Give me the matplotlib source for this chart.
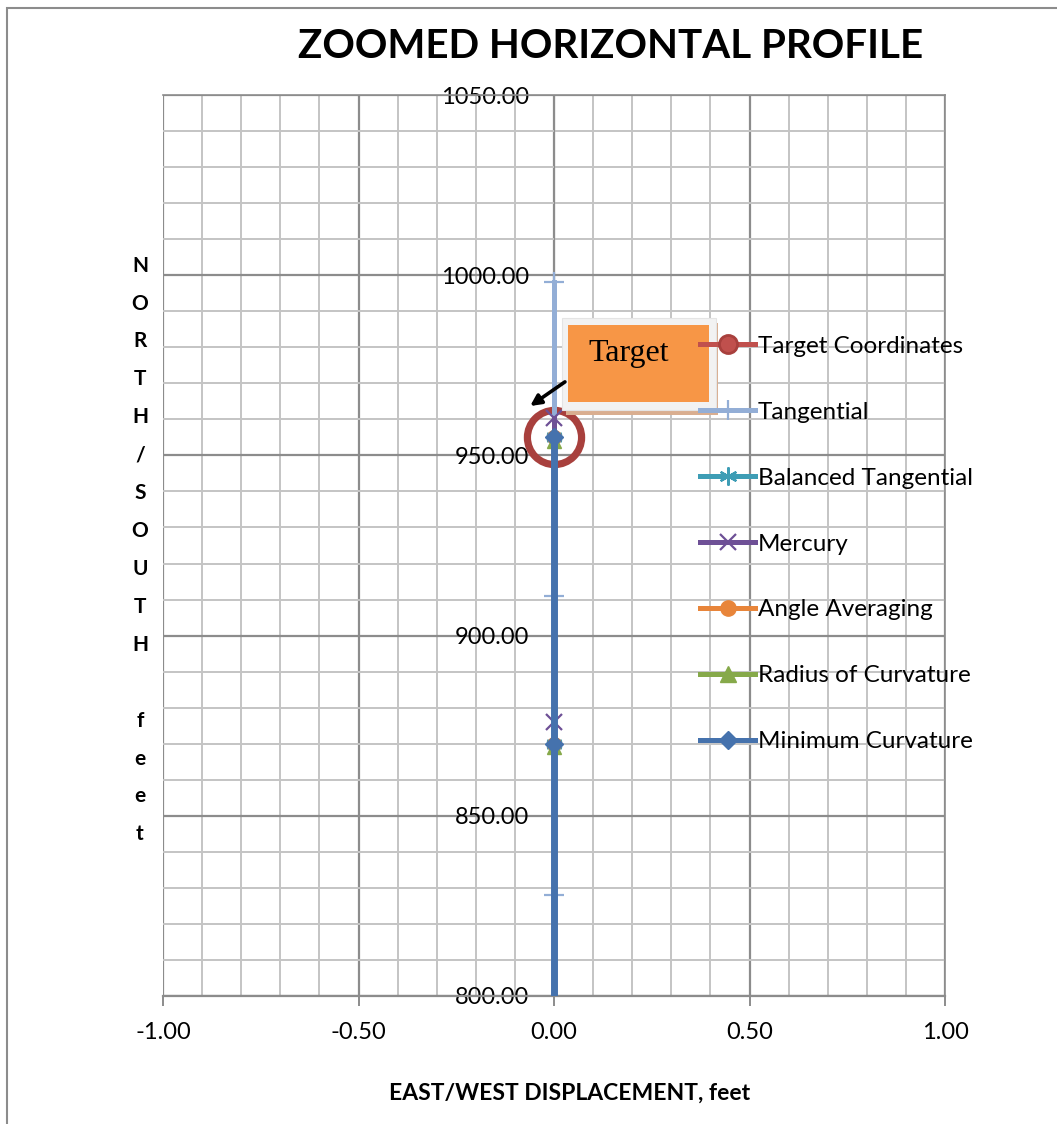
import matplotlib
matplotlib.use("Agg")
import matplotlib.pyplot as plt
from matplotlib.lines import Line2D
from matplotlib.patches import Rectangle
import numpy as np

plt.rcParams['font.family'] = ['Lato', 'DejaVu Sans']

# data (all stations sit on the 0.00 east/west line)
target_x = [0.0]
target_y = [955.0]
tang_x = [0.0, 0.0, 0.0, 0.0]
tang_y = [744.0, 828.0, 911.0, 998.0]
bal_x = [0.0, 0.0, 0.0]
bal_y = [785.0, 870.0, 955.0]
merc_x = [0.0, 0.0, 0.0]
merc_y = [791.0, 876.0, 960.5]
angle_x = [0.0, 0.0, 0.0]
angle_y = [785.0, 870.0, 955.0]
radius_x = [0.0, 0.0, 0.0]
radius_y = [784.0, 869.0, 954.0]
minc_x = [0.0, 0.0, 0.0]
minc_y = [785.0, 870.0, 955.0]

xticks = [-1.0, -0.5, 0.0, 0.5, 1.0]
yticks = [800, 850, 900, 950, 1000, 1050]

c_target = '#A8403D'
c_tang = '#93AED6'
c_bal = '#3E9DB5'
c_merc = '#6E5096'
c_angle = '#E8853A'
c_radius = '#86A94A'
c_minc = '#4572AD'

fig = plt.figure(figsize=(10.57, 11.24), dpi=100)
ax = fig.add_axes([163/1057, 1 - 996/1124, 782/1057, 901/1124])
ax.set_xlim(-1, 1)
ax.set_ylim(800, 1050)

# grid
ax.set_xticks(xticks)
ax.set_xticks(np.arange(-1, 1.001, 0.1), minor=True)
ax.set_yticks(yticks)
ax.set_yticks(np.arange(800, 1050.1, 10), minor=True)
ax.grid(which='minor', color='#C4C4C4', lw=1.4, zorder=0)
ax.grid(which='major', color='#8C8C8C', lw=1.6, zorder=0)
ax.set_axisbelow(True)

for s in ['top', 'right']:
    ax.spines[s].set_color('#8C8C8C')
    ax.spines[s].set_linewidth(1.2)
ax.spines['bottom'].set_color('#8C8C8C')
ax.spines['bottom'].set_linewidth(1.6)
ax.spines['left'].set_position(('data', 0))
ax.spines['left'].set_color('#8C8C8C')

ax.set_xticklabels(['%.2f' % v for v in xticks], fontsize=17)
ax.set_yticklabels(['%.2f' % v for v in yticks], fontsize=17)
ax.tick_params(axis='x', which='major', length=7, width=1.4, color='#8C8C8C', pad=12)
ax.tick_params(axis='y', which='major', length=0, pad=18)
ax.tick_params(which='minor', length=0)

# series
ax.plot(target_x, target_y, color=c_target, marker='o', ms=39, mfc='none',
        mec=c_target, mew=5.2, lw=3, zorder=3)
ax.plot(tang_x, tang_y, color=c_tang, marker='+', ms=14, mew=1.6, lw=3.6, zorder=4)
ax.plot(bal_x, bal_y, color=c_bal, marker=(6, 2, 0), ms=12, mew=1.6, lw=3.6, zorder=5)
ax.plot(merc_x, merc_y, color=c_merc, marker='x', ms=11, mew=1.6, lw=3.6, zorder=6)
ax.plot(angle_x, angle_y, color=c_angle, marker='o', ms=10, lw=3.6, zorder=7)
ax.plot(radius_x, radius_y, color=c_radius, marker='^', ms=10, lw=3.6, zorder=8)
ax.plot(minc_x, minc_y, color=c_minc, marker='D', ms=9, lw=5, zorder=9)

# target callout
ax.add_patch(Rectangle((0.030, 961.3), 0.390, 25.5, facecolor='#D9AE90',
                       edgecolor='none', zorder=10))
ax.add_patch(Rectangle((0.0205, 962.6), 0.3935, 25.5, facecolor='#F2F2F2',
                       edgecolor='#E4E4E4', lw=0.8, zorder=11))
ax.add_patch(Rectangle((0.036, 964.8), 0.360, 21.4, facecolor='#F79646',
                       edgecolor='none', zorder=12))
ax.text(0.087, 978.4, 'Target', family=['Liberation Serif', 'DejaVu Serif'],
        fontsize=23, va='center', ha='left', zorder=13)
ax.annotate('', xy=(-0.061, 963.7), xytext=(0.028, 970.4),
            arrowprops=dict(arrowstyle='-|>', color='black', lw=2.6,
                            mutation_scale=16, shrinkA=0, shrinkB=0),
            zorder=13)

# legend
handles = [
    Line2D([], [], color='#C0504D', lw=3.6, marker='o', ms=13, mfc='#C0504D', mec=c_target, mew=2),
    Line2D([], [], color=c_tang, lw=3.6, marker='+', ms=14, mew=1.6),
    Line2D([], [], color=c_bal, lw=3.6, marker=(6, 2, 0), ms=13, mew=1.6),
    Line2D([], [], color=c_merc, lw=3.6, marker='x', ms=11, mew=1.6),
    Line2D([], [], color=c_angle, lw=3.6, marker='o', ms=11),
    Line2D([], [], color=c_radius, lw=3.6, marker='^', ms=11),
    Line2D([], [], color=c_minc, lw=3.6, marker='D', ms=9),
]
labels = ['Target Coordinates', 'Tangential', 'Balanced Tangential', 'Mercury',
          'Angle Averaging', 'Radius of Curvature', 'Minimum Curvature']
leg = ax.legend(handles, labels, loc='upper left', bbox_to_anchor=(0.687, 0.733),
                frameon=False, fontsize=17.5, handlelength=2.25, handletextpad=0.12,
                labelspacing=1.85, borderpad=0, borderaxespad=0)
leg.set_zorder(20)

# titles
fig.text(611/1057, 1 - 47/1124, 'ZOOMED HORIZONTAL PROFILE', fontsize=29,
         fontweight='bold', ha='center', va='center')
fig.text(570/1057, 1 - 1093/1124, 'EAST/WEST DISPLACEMENT, feet', fontsize=16.5,
         fontweight='bold', ha='center', va='center')
fig.text(140/1057, 1 - 550/1124, '\n'.join('NORTH/SOUTH feet'),
         fontsize=15, fontweight='bold', ha='center', va='center',
         linespacing=2.12)

# outer chart border (left and top only visible in the crop)
fig.add_artist(Rectangle((7/1057, -0.1), 1.2, 1 - 8/1124 + 0.1,
                         transform=fig.transFigure, fill=False,
                         edgecolor='#8C8C8C', lw=1.5))

fig.savefig('out.png', dpi=100)
